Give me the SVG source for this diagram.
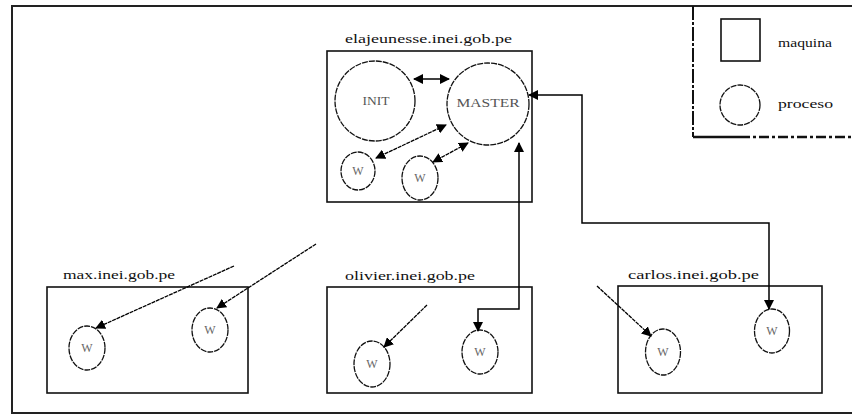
<svg xmlns="http://www.w3.org/2000/svg" width="852" height="415" viewBox="0 0 852 415">
<defs>
<marker id="ah" viewBox="0 0 10 10" refX="9" refY="5" markerWidth="10" markerHeight="10" markerUnits="userSpaceOnUse" orient="auto-start-reverse">
<path d="M0,0 L10,5 L0,10 Z" fill="#000"/>
</marker>
<style>
.frame{fill:none;stroke:#222;stroke-width:2}
.box{fill:none;stroke:#111;stroke-width:1.6}
.proc{fill:#fff;stroke:#111;stroke-width:1.3;stroke-dasharray:6 1}
.lbl{font-family:"Liberation Serif","Times New Roman",serif;font-size:13px;fill:#111}
.pl{font-family:"Liberation Serif","Times New Roman",serif;font-size:12px;fill:#555;text-anchor:middle}
.w{font-family:"Liberation Serif","Times New Roman",serif;font-size:12px;fill:#666;text-anchor:middle}
.c{fill:none;stroke:#000;stroke-width:1.5}
.cd{fill:none;stroke:#000;stroke-width:1.3;stroke-dasharray:4 0.8}
</style>
</defs>
<rect width="852" height="415" fill="#fff"/>
<g id="frame">
<path class="frame" d="M860,6 H12 V413 H860"/>
</g>
<g id="legend">
<path d="M693,6 V137" fill="none" stroke="#111" stroke-width="2" stroke-dasharray="14 2 3 2"/>
<path d="M693,137 H740" fill="none" stroke="#111" stroke-width="2.5"/>
<path d="M740,137 H852" fill="none" stroke="#111" stroke-width="2.5" stroke-dasharray="10 3 3 3"/>
<rect class="box" x="721" y="19" width="39" height="42"/>
<text class="lbl" x="778" y="47" textLength="54" lengthAdjust="spacingAndGlyphs">maquina</text>
<circle class="proc" cx="740" cy="105" r="20"/>
<text class="lbl" x="778" y="108" textLength="55" lengthAdjust="spacingAndGlyphs">proceso</text>
</g>
<g id="elajeunesse">
<rect class="box" x="327" y="51" width="205" height="151"/>
<text class="lbl" x="345" y="43" textLength="167" lengthAdjust="spacingAndGlyphs">elajeunesse.inei.gob.pe</text>
<g id="init"><circle class="proc" cx="375" cy="101" r="40"/><text class="pl" x="376" y="105" textLength="27" lengthAdjust="spacingAndGlyphs">INIT</text></g>
<g id="master"><circle class="proc" cx="488" cy="104" r="41"/><text class="pl" x="488" y="107" textLength="63" lengthAdjust="spacingAndGlyphs">MASTER</text></g>
<g id="w-ela-1"><ellipse class="proc" cx="358" cy="171" rx="17" ry="19"/><text class="w" x="358" y="175">W</text></g>
<g id="w-ela-2"><ellipse class="proc" cx="420" cy="178" rx="18" ry="22"/><text class="w" x="420" y="182">W</text></g>
</g>
<g id="max">
<rect class="box" x="47" y="287" width="201" height="106"/>
<text class="lbl" x="63" y="279" textLength="112" lengthAdjust="spacingAndGlyphs">max.inei.gob.pe</text>
<g id="w-max-1"><ellipse class="proc" cx="87" cy="348" rx="18" ry="22"/><text class="w" x="87" y="352">W</text></g>
<g id="w-max-2"><ellipse class="proc" cx="210" cy="330" rx="18" ry="22"/><text class="w" x="210" y="334">W</text></g>
</g>
<g id="olivier">
<rect class="box" x="327" y="287" width="205" height="106"/>
<text class="lbl" x="345" y="280" textLength="130" lengthAdjust="spacingAndGlyphs">olivier.inei.gob.pe</text>
<g id="w-oli-1"><ellipse class="proc" cx="372" cy="364" rx="18" ry="23"/><text class="w" x="372" y="368">W</text></g>
<g id="w-oli-2"><ellipse class="proc" cx="480" cy="352" rx="18" ry="22"/><text class="w" x="480" y="356">W</text></g>
</g>
<g id="carlos">
<rect class="box" x="618" y="286" width="204" height="107"/>
<text class="lbl" x="628" y="279" textLength="131" lengthAdjust="spacingAndGlyphs">carlos.inei.gob.pe</text>
<g id="w-car-1"><ellipse class="proc" cx="663" cy="352" rx="17.5" ry="23"/><text class="w" x="663" y="356">W</text></g>
<g id="w-car-2"><ellipse class="proc" cx="772" cy="331" rx="17.5" ry="22"/><text class="w" x="772" y="335">W</text></g>
</g>
<g id="connectors">
<path class="c" d="M414,79 H449" marker-start="url(#ah)" marker-end="url(#ah)"/>
<path class="cd" d="M376,158 L446,125" marker-start="url(#ah)" marker-end="url(#ah)"/>
<path class="cd" d="M433,162 L468,143" marker-start="url(#ah)" marker-end="url(#ah)"/>
<path class="c" d="M519,143 V309 H478 V331" marker-start="url(#ah)" marker-end="url(#ah)"/>
<path class="c" d="M529,95 H582 V223 H769 V309" marker-start="url(#ah)" marker-end="url(#ah)"/>
<path class="cd" d="M234,266 L96,328" marker-end="url(#ah)"/>
<path class="cd" d="M316,244 L217,308" marker-end="url(#ah)"/>
<path class="cd" d="M427,305 L384,347" marker-end="url(#ah)"/>
<path class="cd" d="M597,286 L651,336" marker-end="url(#ah)"/>
</g>
</svg>
